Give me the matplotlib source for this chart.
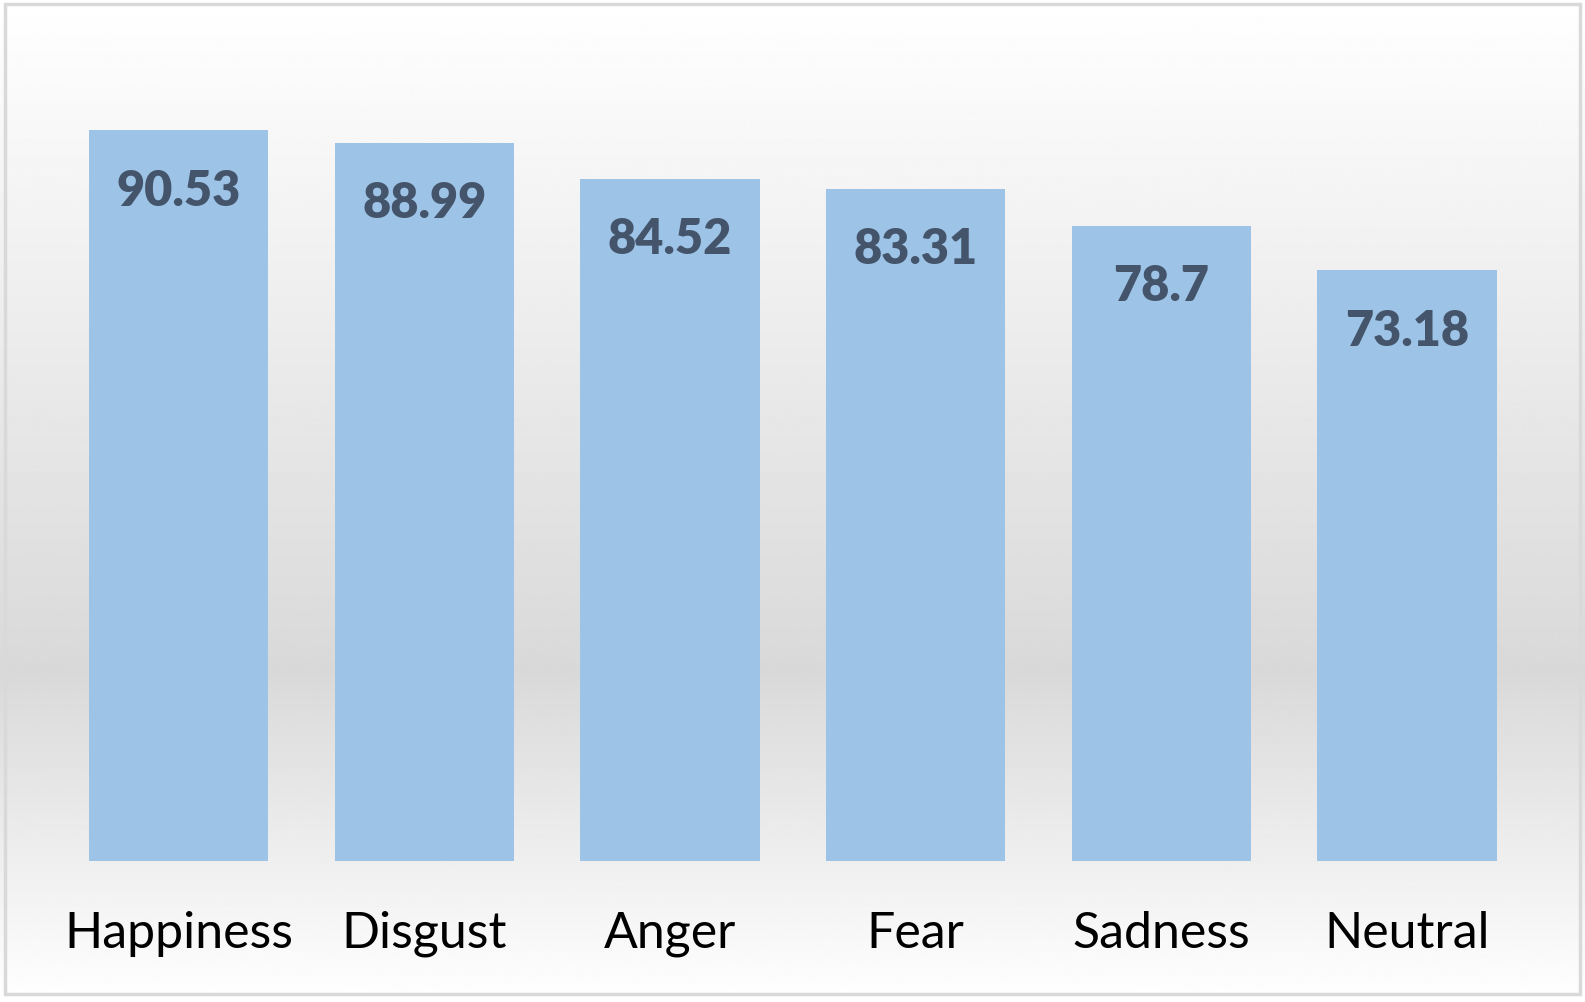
import matplotlib.pyplot as plt
import numpy as np
from matplotlib.patches import Rectangle

categories = ["Happiness", "Disgust", "Anger", "Fear", "Sadness", "Neutral"]
scores = [90.53, 88.99, 84.52, 83.31, 78.7, 73.18]
score_labels = ["90.53", "88.99", "84.52", "83.31", "78.7", "73.18"]

plt.rcParams['font.family'] = ['Lato', 'DejaVu Sans']

fig = plt.figure(figsize=(15.85, 10.03), dpi=100)

# gradient background like the excel chart area
bg = fig.add_axes([0, 0, 1, 1], zorder=0)
t = np.linspace(0, 1, 500)
stop = 0.67
shade = np.where(t < stop, 1.0 - 0.15 * (t / stop), 0.85 + 0.15 * ((t - stop) / (1 - stop)))
img = np.repeat(shade[:, None], 2, axis=1)
bg.imshow(img, cmap='gray', vmin=0, vmax=1, aspect='auto', extent=[0, 1, 0, 1], origin='upper')
bg.add_patch(Rectangle((5 / 1585, 8 / 1003), 1575 / 1585, 990 / 1003, fill=False,
                       edgecolor='#d9d9d9', linewidth=2.5, transform=bg.transAxes))
bg.set_xlim(0, 1)
bg.set_ylim(0, 1)
bg.axis('off')

ax = fig.add_axes([0.0351, 0.1406, 0.9301, 0.8046], zorder=1)
ax.patch.set_alpha(0)
x = np.arange(len(categories))
ax.bar(x, scores, width=0.73, color='#9dc3e6')
for xi, v, lab in zip(x, scores, score_labels):
    ax.annotate(lab, (xi, v), xytext=(0, -43), textcoords='offset points',
                ha='center', va='center', fontsize=35, fontweight='heavy', color='#44546a')

ax.set_xlim(-0.5, len(categories) - 0.5)
ax.set_ylim(0, 100)
ax.set_xticks(x)
ax.set_xticklabels(categories, fontsize=36, color='black')
ax.tick_params(axis='x', length=0, pad=35)
ax.set_yticks([])
for s in ax.spines.values():
    s.set_visible(False)

plt.savefig("out.png", dpi=100)
